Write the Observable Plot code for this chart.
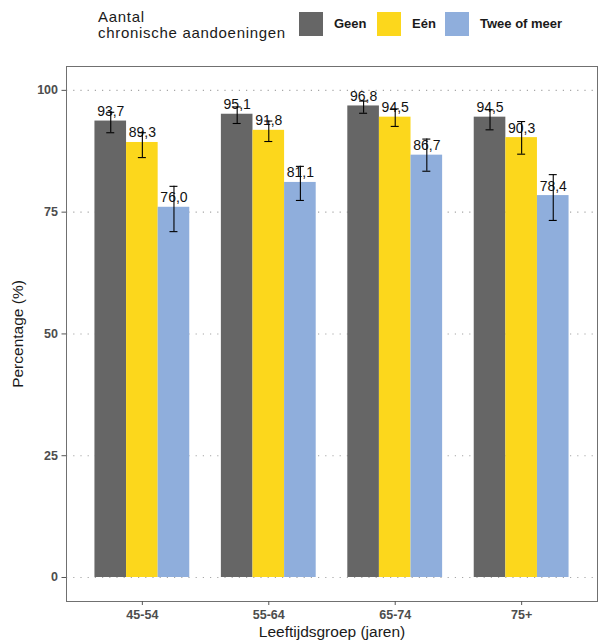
<!DOCTYPE html>
<html>
<head>
<meta charset="utf-8">
<script src="https://cdn.jsdelivr.net/npm/d3@7"></script>
<script src="https://cdn.jsdelivr.net/npm/@observablehq/plot@0.6"></script>
<style>
  html, body { margin: 0; padding: 0; background: #fff; }
  #wrap { width: 598px; font-family: "Liberation Sans", Arial, sans-serif; }
  #legend { position: relative; width: 598px; height: 58px; }
  #legend .title { position: absolute; left: 98px; top: 9px; font-size: 15px; line-height: 16px; letter-spacing: 0.7px; color: #1a1a1a; white-space: nowrap; }
  #legend .key { position: absolute; top: 12px; width: 24px; height: 24px; }
  #legend .lab { position: absolute; top: 12px; line-height: 24px; font-size: 13px; font-weight: bold; color: #1a1a1a; white-space: nowrap; }
</style>
</head>
<body>
<div id="wrap">
  <div id="legend"></div>
  <div id="chart"></div>
</div>
<script>
// ---- data ----
const ages = ["45-54", "55-64", "65-74", "75+"];
const cats = ["Geen", "Eén", "Twee of meer"];
const colors = ["#666666", "#FCD71C", "#8FAEDC"];
const geen = [93.7, 95.1, 96.8, 94.5];
const een = [89.3, 91.8, 94.5, 90.3];
const twee = [76.0, 81.1, 86.7, 78.4];
const geenLo = [91.3, 93.2, 95.3, 91.9];
const geenHi = [95.5, 96.6, 97.8, 96.0];
const eenLo = [86.2, 89.5, 92.6, 86.9];
const eenHi = [91.3, 93.7, 96.2, 93.6];
const tweeLo = [71.0, 77.4, 83.4, 73.3];
const tweeHi = [80.3, 84.4, 90.0, 82.7];
const yTicks = [0, 25, 50, 75, 100];
const legendTitle = ["Aantal", "chronische aandoeningen"];
const xTitle = "Leeftijdsgroep (jaren)";
const yTitle = "Percentage (%)";

const series = [
  {cat: cats[0], v: geen, lo: geenLo, hi: geenHi},
  {cat: cats[1], v: een, lo: eenLo, hi: eenHi},
  {cat: cats[2], v: twee, lo: tweeLo, hi: tweeHi}
];
const rows = [];
series.forEach((s, i) => ages.forEach((a, j) => rows.push({age: a, cat: s.cat, idx: i, value: s.v[j], lo: s.lo[j], hi: s.hi[j]})));

// ---- legend (HTML, above the SVG) ----
const leg = document.getElementById("legend");
const t = document.createElement("div");
t.className = "title";
t.innerHTML = legendTitle.join("<br>");
leg.appendChild(t);
const keyLeft = [299, 377, 445];
const labLeft = [334, 412, 480];
cats.forEach((c, i) => {
  const k = document.createElement("div");
  k.className = "key"; k.style.left = keyLeft[i] + "px"; k.style.background = colors[i];
  leg.appendChild(k);
  const l = document.createElement("div");
  l.className = "lab"; l.style.left = labLeft[i] + "px"; l.textContent = c;
  leg.appendChild(l);
});

// ---- chart ----
const W = 598, H = 586, mT = 8, mB = 43, mL = 66, mR = 1;
const xOpts = {type: "band", domain: ages, paddingInner: 0.25, paddingOuter: 0.225, round: false};
const xs = Plot.scale({x: {...xOpts, range: [mL, W - mR]}});
const bw = xs.bandwidth;
const third = bw / 3;
const capW = 8;
const fmt = v => v.toFixed(1).replace(".", ",");

const marks = [
  Plot.ruleY(yTicks, {stroke: "#a6a6a6", strokeDasharray: "1.2,6", strokeWidth: 1.1})
];
series.forEach((s, i) => {
  const data = rows.filter(r => r.idx === i);
  const off = (i - 1) * third;
  marks.push(
    Plot.barY(data, {x: "age", y: "value", fill: colors[i], insetLeft: i * third, insetRight: (2 - i) * third})
  );
});
series.forEach((s, i) => {
  const data = rows.filter(r => r.idx === i);
  const off = (i - 1) * third;
  const capIn = (third - capW) / 2;
  marks.push(
    Plot.text(data, {x: "age", y: "value", text: d => fmt(d.value), dx: off, dy: -5, lineAnchor: "bottom", fontSize: 14, fill: "#111"}),
    Plot.ruleX(data, {x: "age", y1: "lo", y2: "hi", dx: off, stroke: "#000", strokeWidth: 1.1}),
    Plot.tickY(data, {x: "age", y: "lo", stroke: "#000", strokeWidth: 1.1, insetLeft: i * third + capIn, insetRight: (2 - i) * third + capIn}),
    Plot.tickY(data, {x: "age", y: "hi", stroke: "#000", strokeWidth: 1.1, insetLeft: i * third + capIn, insetRight: (2 - i) * third + capIn})
  );
});
marks.push(
  Plot.frame({stroke: "#707070", strokeWidth: 1}),
  Plot.axisY({ticks: yTicks, tickSize: 4.5, tickPadding: 4, fontSize: 12.5, fontWeight: "bold", fill: "#4d4d4d", stroke: "#555", label: null}),
  Plot.axisX({tickSize: 4, tickPadding: 5, fontSize: 12.5, fontWeight: "bold", fill: "#4d4d4d", stroke: "#555", label: null}),
  Plot.text([yTitle], {frameAnchor: "left", dx: -48, rotate: -90, textAnchor: "middle", fontSize: 15.5, fill: "#1a1a1a"}),
  Plot.text([xTitle], {frameAnchor: "bottom", dy: 31, lineAnchor: "middle", fontSize: 15.5, fill: "#1a1a1a"})
);

const chart = Plot.plot({
  width: W, height: H,
  marginTop: mT, marginBottom: mB, marginLeft: mL, marginRight: mR,
  style: {fontFamily: "'Liberation Sans', Arial, sans-serif", background: "#fff", overflow: "visible"},
  x: {...xOpts, axis: null},
  y: {domain: [-4.93, 104.9], axis: null},
  marks
});
document.getElementById("chart").appendChild(chart);
</script>
</body>
</html>
